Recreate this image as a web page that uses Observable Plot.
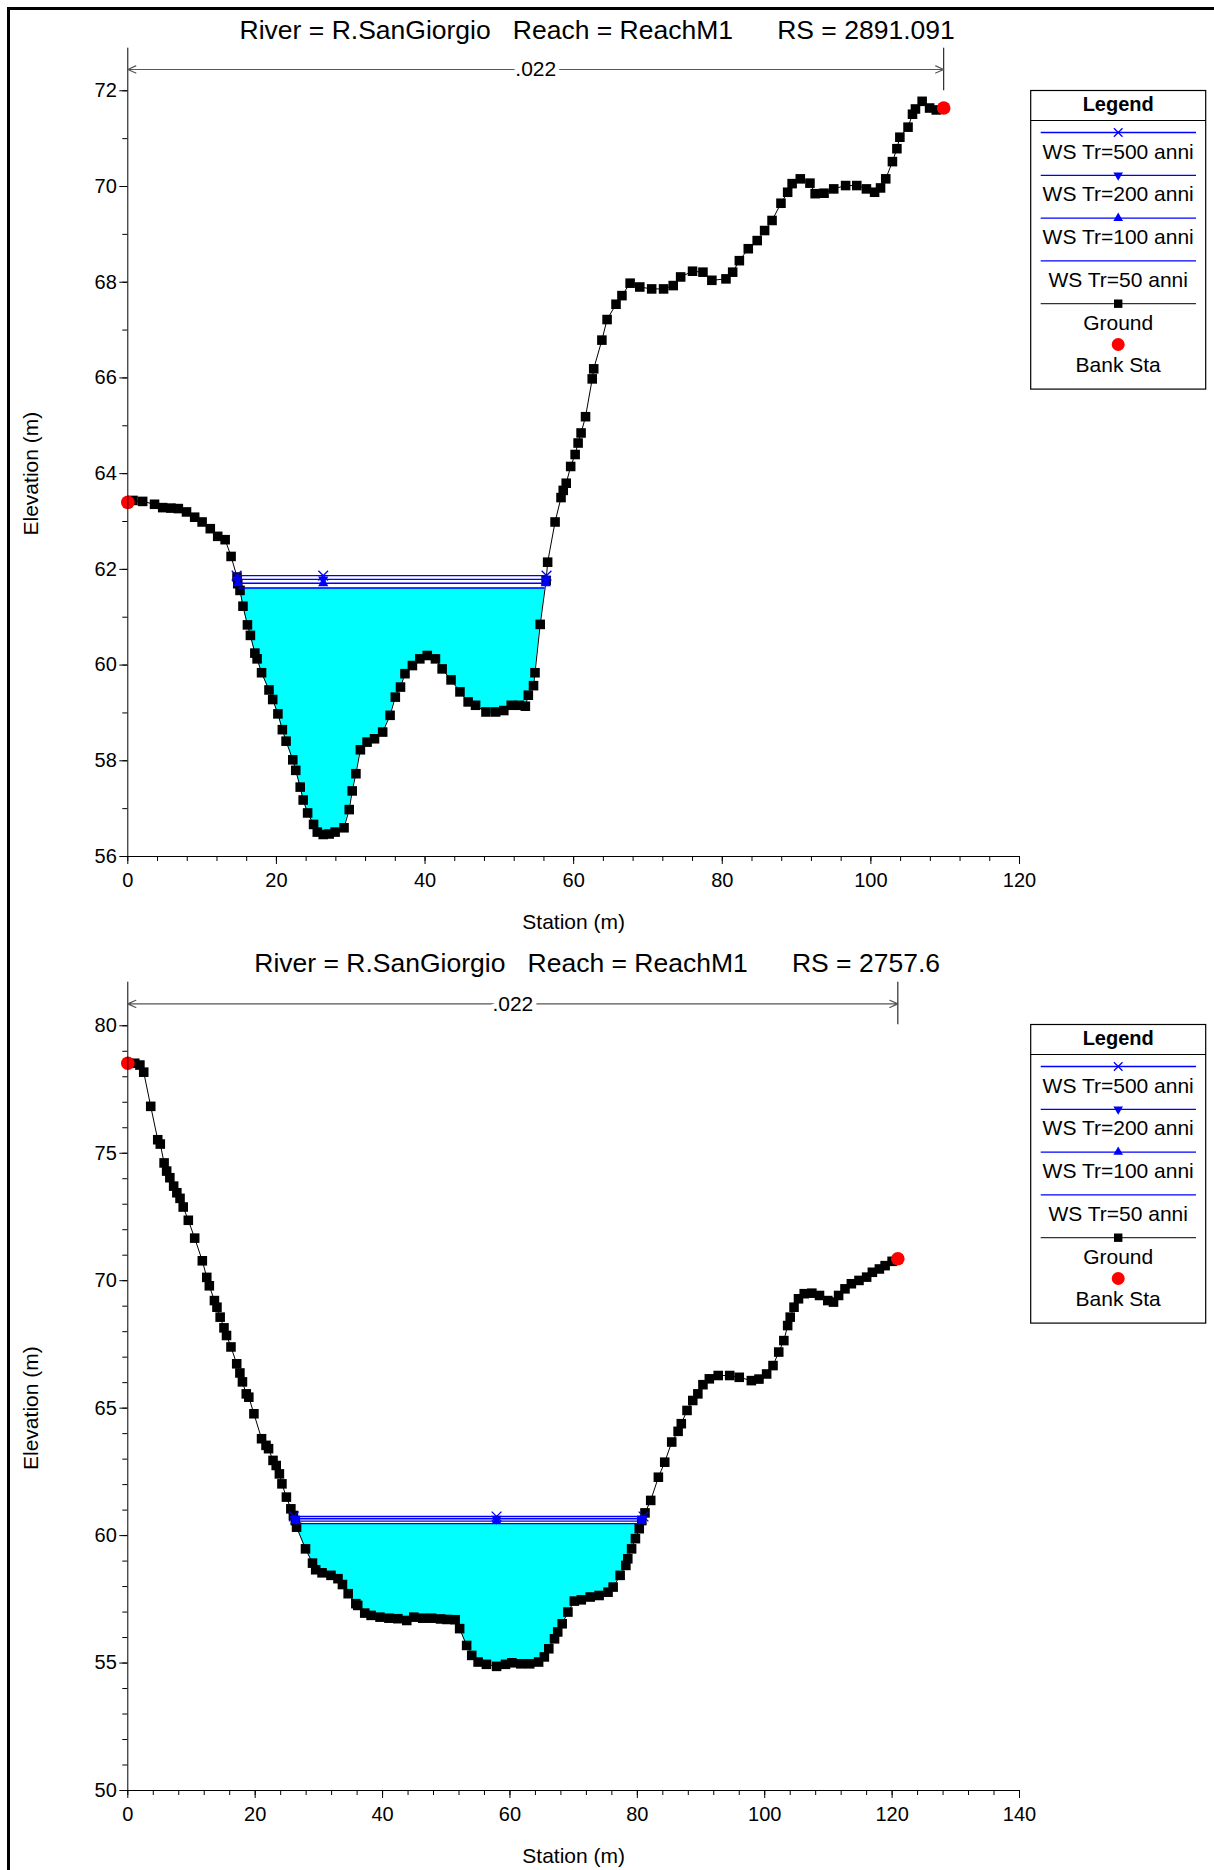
<!DOCTYPE html>
<html><head><meta charset="utf-8">
<script src="https://cdn.jsdelivr.net/npm/d3@7"></script>
<script src="https://cdn.jsdelivr.net/npm/@observablehq/plot@0.6"></script>
<style>
html,body{margin:0;padding:0;background:#fff;}
#page{position:relative;width:1214px;height:1870px;overflow:hidden;background:#fff;font-family:"Liberation Sans",Arial,sans-serif;}
#frame{position:absolute;left:6.5px;top:6.5px;width:1300px;height:2000px;border-left:3px solid #000;border-top:3px solid #000;z-index:10;pointer-events:none;}
.chart{position:absolute;left:0;}
svg text{white-space:pre;}
</style></head><body><div id="page"></div>
<script>
// ---------- DATA ----------
const topTitle = "River = R.SanGiorgio   Reach = ReachM1      RS = 2891.091";
const botTitle = "River = R.SanGiorgio   Reach = ReachM1      RS = 2757.6";
const nValue = ".022";

const topStation = [0.0,0.7,2.0,3.6,4.7,5.8,6.8,7.9,9.0,10.0,11.1,12.1,13.1,13.9,14.7,14.8,15.1,15.5,16.1,16.5,17.1,17.4,18.0,19.0,19.5,20.2,20.8,21.3,22.2,22.6,23.2,23.6,24.2,25.0,25.5,26.3,27.1,27.9,29.1,29.8,30.2,30.7,31.3,32.2,33.2,34.3,35.3,36.0,36.7,37.3,38.3,39.3,40.3,41.4,42.3,43.5,44.7,45.8,46.8,48.2,49.5,50.6,51.6,52.7,53.5,53.9,54.6,54.8,55.5,56.3,56.5,57.5,58.3,58.6,59.0,59.6,60.2,60.6,61.0,61.6,62.5,62.7,63.8,64.5,65.7,66.5,67.6,68.9,70.5,72.1,73.4,74.4,76.0,77.4,78.6,80.5,81.4,82.3,83.5,84.7,85.7,86.7,87.9,88.8,89.4,90.5,91.8,92.5,93.7,95.0,96.6,98.1,99.4,100.5,101.3,102.0,102.9,103.5,103.9,105.0,105.6,106.0,106.9,107.9,108.8,109.8];
const topElev = [63.40,63.44,63.42,63.36,63.29,63.28,63.27,63.20,63.09,62.99,62.85,62.69,62.62,62.27,61.84,61.70,61.56,61.23,60.84,60.62,60.25,60.13,59.84,59.48,59.28,58.98,58.65,58.41,58.02,57.80,57.45,57.18,56.91,56.67,56.51,56.46,56.47,56.51,56.60,56.98,57.37,57.73,58.23,58.39,58.46,58.60,58.95,59.33,59.54,59.82,59.99,60.13,60.20,60.13,59.92,59.69,59.44,59.23,59.16,59.02,59.02,59.05,59.16,59.16,59.14,59.37,59.57,59.84,60.85,61.77,62.15,62.99,63.50,63.65,63.80,64.15,64.40,64.64,64.85,65.19,65.98,66.19,66.79,67.22,67.54,67.72,67.98,67.90,67.86,67.86,67.93,68.11,68.23,68.21,68.04,68.07,68.21,68.45,68.70,68.87,69.08,69.29,69.65,69.88,70.06,70.16,70.07,69.85,69.86,69.95,70.02,70.02,69.95,69.88,69.97,70.16,70.52,70.79,71.03,71.24,71.51,71.62,71.78,71.64,71.60,71.64];
const topBankStation = [0, 109.8];
const topBankElev = [63.4, 71.64];
const topWsElev = [61.87, 61.79, 61.71, 61.61];

const botStation = [0.0,1.1,1.9,2.5,3.6,4.7,5.1,5.7,6.1,6.6,7.2,7.7,8.2,8.7,9.5,10.5,11.7,12.4,12.8,13.6,14.0,14.5,15.1,15.5,16.2,17.1,17.6,18.0,18.6,19.0,19.8,21.0,21.7,22.1,22.8,23.3,23.8,24.2,24.9,25.6,26.0,26.3,26.5,27.9,29.0,29.5,30.5,31.9,33.0,33.7,34.6,35.8,36.1,37.2,38.2,39.6,41.0,42.4,43.8,44.9,46.3,47.7,49.1,50.1,51.4,52.1,53.2,54.0,55.0,56.3,57.9,59.3,60.3,61.7,63.1,64.5,65.4,66.1,67.0,67.5,68.2,69.1,70.1,71.2,72.6,74.0,75.4,76.2,77.3,78.2,78.5,79.1,79.7,80.3,80.7,81.2,82.1,83.3,84.3,85.4,86.4,86.9,87.8,88.7,89.5,90.3,91.3,92.7,94.5,96.0,97.9,99.1,100.3,101.3,102.2,103.0,103.6,104.0,104.6,105.3,106.2,107.4,108.6,109.9,110.8,111.6,112.6,113.6,114.8,116.0,116.9,118.0,118.9,120.0,120.9];
const botElev = [78.53,78.53,78.46,78.18,76.84,75.53,75.36,74.62,74.30,74.04,73.71,73.45,73.23,72.89,72.37,71.67,70.78,70.13,69.80,69.22,68.96,68.57,68.15,67.85,67.40,66.74,66.38,66.03,65.56,65.43,64.78,63.80,63.54,63.41,62.95,62.75,62.42,62.03,61.51,61.05,60.79,60.59,60.33,59.48,58.92,58.66,58.54,58.44,58.31,58.08,57.72,57.33,57.26,56.96,56.87,56.80,56.76,56.74,56.67,56.80,56.76,56.76,56.73,56.71,56.70,56.35,55.69,55.30,55.04,54.95,54.87,54.95,55.01,54.97,54.97,55.04,55.24,55.56,55.95,56.22,56.54,57.00,57.43,57.48,57.59,57.65,57.78,57.98,58.44,58.83,59.09,59.48,59.88,60.27,60.59,60.89,61.38,62.29,62.88,63.67,64.09,64.39,64.91,65.30,65.56,65.92,66.15,66.28,66.28,66.21,66.08,66.14,66.34,66.67,67.20,67.65,68.24,68.57,68.96,69.29,69.49,69.51,69.42,69.22,69.16,69.42,69.68,69.88,70.01,70.14,70.33,70.46,70.59,70.76,70.86];
const botBankStation = [0, 120.9];
const botBankElev = [78.53, 70.86];
const botWsElev = [60.75, 60.66, 60.57, 60.47];

const wsLabels = ["WS Tr=500 anni", "WS Tr=200 anni", "WS Tr=100 anni", "WS Tr=50 anni"];
const wsSymbols = ["times", "down", "up", null];
const legendLabels = [...wsLabels, "Ground", "Bank Sta"];

// ---------- STYLE / LAYOUT ----------
const FONT = '"Liberation Sans", Arial, Helvetica, sans-serif';
const BLUE = "#0000FF";

function edges(g, e) {
  const i = g.findIndex(d => d.y < e);
  let j = -1;
  for (let k = g.length - 1; k >= 0; k--) if (g[k].y < e) { j = k; break; }
  const lerp = (a, b) => a.x + (e - a.y) * (b.x - a.x) / (b.y - a.y);
  return [lerp(g[i - 1], g[i]), lerp(g[j], g[j + 1])];
}

function makeChart(cfg) {
  const ground = cfg.station.map((s, i) => ({x: s, y: cfg.elev[i]}));
  const bank = cfg.bankStation.map((s, i) => ({x: s, y: cfg.bankElev[i]}));
  const thalweg = ground.reduce((a, b) => (b.y < a.y ? b : a));
  const ws = cfg.wsElev.map((e, k) => {
    const [xl, xr] = edges(ground, e);
    return {e, xl, xr, symbol: wsSymbols[k]};
  });
  const markers = ws.flatMap(w => w.symbol ? [w.xl, thalweg.x, w.xr].map(x => ({x, y: w.e, symbol: w.symbol})) : []);
  const fw = ws[ws.length - 1];
  const water = [{x: fw.xl, g: fw.e},
    ...ground.filter(d => d.x > fw.xl && d.x < fw.xr).map(d => ({x: d.x, g: d.y})),
    {x: fw.xr, g: fw.e}];
  const [ymin, ymax] = cfg.yDomain;
  const [xmin, xmax] = cfg.xDomain;
  const bL = bank[0].x, bR = bank[bank.length - 1].x, mid = (bL + bR) / 2;

  const svg = Plot.plot({
    width: 1214, height: cfg.height,
    marginLeft: 127.3, marginRight: 195, marginTop: 47.7, marginBottom: cfg.height - 856,
    x: {domain: cfg.xDomain},
    y: {domain: cfg.yDomain},
    style: {fontFamily: FONT, fontSize: "20px", color: "#000", background: "transparent", overflow: "visible"},
    marks: [
      Plot.areaY(water, {x: "x", y1: "g", y2: () => fw.e, fill: "#00FFFF"}),
      Plot.line(ground, {x: "x", y: "y", stroke: "#000", strokeWidth: 1}),
      Plot.dot(ground, {x: "x", y: "y", symbol: "square", r: 5.4, fill: "#000", stroke: null}),
      Plot.ruleY(ws, {y: "e", x1: "xl", x2: "xr", stroke: BLUE, strokeWidth: 1.3}),
      Plot.dot(markers.filter(d => d.symbol === "times"), {x: "x", y: "y", symbol: "times", r: 4.5, stroke: BLUE, strokeWidth: 1.3}),
      Plot.dot(markers.filter(d => d.symbol === "up"), {x: "x", y: "y", symbol: "triangle", r: 3.8, fill: BLUE, stroke: null}),
      Plot.dot(markers.filter(d => d.symbol === "down"), {x: "x", y: "y", symbol: "triangle", rotate: 180, r: 3.8, fill: BLUE, stroke: null}),
      Plot.dot(bank, {x: "x", y: "y", r: 6.8, fill: "#FF0000", stroke: null}),
      // axes
      Plot.ruleX([xmin], {y1: ymin, y2: ymax, stroke: "#000"}),
      Plot.ruleY([ymin], {x1: xmin, x2: xmax, stroke: "#000"}),
      Plot.axisY({ticks: d3.range(ymin, cfg.yTickMax + 0.001, 1), tickSize: 5, tickFormat: () => "", label: null}),
      Plot.axisY({ticks: d3.range(ymin, cfg.yTickMax + 0.001, cfg.yMajor), tickSize: 8, tickPadding: 3, label: null}),
      Plot.axisX({ticks: d3.range(xmin, xmax + 0.001, 4), tickSize: 5, tickFormat: () => "", label: null}),
      Plot.axisX({ticks: d3.range(xmin, xmax + 0.001, 20), tickSize: 8, tickPadding: 8, label: null}),
      Plot.text(["Elevation (m)"], {y: () => (ymin + cfg.yTickMax) / 2, frameAnchor: "left", dx: -96.3, rotate: -90, textAnchor: "middle", lineAnchor: "middle", text: d => d, fontSize: 21}),
      Plot.text(["Station (m)"], {frameAnchor: "bottom", dy: 65.7, lineAnchor: "middle", text: d => d, fontSize: 21}),
      Plot.text([cfg.title], {frameAnchor: "top", dy: cfg.titleDy, dx: 23.5, lineAnchor: "middle", text: d => d, fontSize: 26.5}),
      // n-value (Manning) indicator
      Plot.ruleX([bR], {y1: ymax, y2: cfg.nTickBottom, stroke: "#000"}),
      Plot.arrow([{a: mid, b: bL}, {a: mid, b: bR}], {x1: "a", x2: "b", y1: () => cfg.nRow, y2: () => cfg.nRow, stroke: "#555", strokeWidth: 1.2, headLength: 11, headAngle: 48}),
      Plot.text([nValue], {x: () => mid, y: () => cfg.nRow, text: d => d, fontSize: 21, fill: "#000", stroke: "#fff", strokeWidth: 10})
    ]
  });
  addLegend(svg, 1030.7, 90.5);
  return svg;
}

function addLegend(svg, x0, y0) {
  const W = 175, H = 298.6, cx = x0 + W / 2;
  const g = d3.select(svg).append("g").attr("font-family", FONT);
  g.append("rect").attr("x", x0).attr("y", y0).attr("width", W).attr("height", H)
    .attr("fill", "#fff").attr("stroke", "#000").attr("stroke-width", 1.2);
  g.append("line").attr("x1", x0).attr("x2", x0 + W).attr("y1", y0 + 30).attr("y2", y0 + 30).attr("stroke", "#000");
  g.append("text").attr("x", cx).attr("y", y0 + 13).attr("text-anchor", "middle").attr("dominant-baseline", "central")
    .attr("font-size", 20).attr("font-weight", "bold").text("Legend");
  legendLabels.forEach((lab, k) => {
    const ly = y0 + 42 + 42.8 * k;
    const isWs = k < 4, isGround = k === 4, isBank = k === 5;
    if (!isBank) {
      g.append("line").attr("x1", x0 + 10).attr("x2", x0 + 165.3).attr("y1", ly).attr("y2", ly)
        .attr("stroke", isWs ? BLUE : "#333").attr("stroke-width", 1.3);
    }
    const sym = wsSymbols[k];
    if (sym === "times") {
      g.append("path").attr("d", d3.symbol(d3.symbolTimes, 50)()).attr("transform", `translate(${cx},${ly})`)
        .attr("stroke", BLUE).attr("stroke-width", 1.3).attr("fill", "none");
    } else if (sym === "up" || sym === "down") {
      g.append("path").attr("d", d3.symbol(d3.symbolTriangle, 40)())
        .attr("transform", `translate(${cx},${ly})${sym === "down" ? " rotate(180)" : ""}`).attr("fill", BLUE);
    } else if (isGround) {
      g.append("rect").attr("x", cx - 4.2).attr("y", ly - 4.2).attr("width", 8.4).attr("height", 8.4).attr("fill", "#000");
    } else if (isBank) {
      g.append("circle").attr("cx", cx).attr("cy", ly - 2).attr("r", 6.5).attr("fill", "#FF0000");
    }
    g.append("text").attr("x", cx).attr("y", ly + 18.5 - (isBank ? 1 : 0)).attr("text-anchor", "middle")
      .attr("dominant-baseline", "central").attr("font-size", 21).attr("fill", "#000").text(lab);
  });
}

const page = document.getElementById("page");
const top1 = makeChart({
  title: topTitle, titleDy: -17.7, height: 934,
  station: topStation, elev: topElev, bankStation: topBankStation, bankElev: topBankElev, wsElev: topWsElev,
  xDomain: [0, 120], yDomain: [56, 72.89], yTickMax: 72, yMajor: 2,
  nRow: 72.445, nTickBottom: 72.0
});
const bot1 = makeChart({
  title: botTitle, titleDy: -18.7, height: 936,
  station: botStation, elev: botElev, bankStation: botBankStation, bankElev: botBankElev, wsElev: botWsElev,
  xDomain: [0, 140], yDomain: [50, 81.71], yTickMax: 80, yMajor: 5,
  nRow: 80.86, nTickBottom: 80.04
});
const d1 = document.createElement("div"); d1.className = "chart"; d1.style.top = "0px"; d1.appendChild(top1);
const d2 = document.createElement("div"); d2.className = "chart"; d2.style.top = "934px"; d2.appendChild(bot1);
page.appendChild(d1); page.appendChild(d2);
const fr = document.createElement("div"); fr.id = "frame"; page.appendChild(fr);
</script></body></html>
